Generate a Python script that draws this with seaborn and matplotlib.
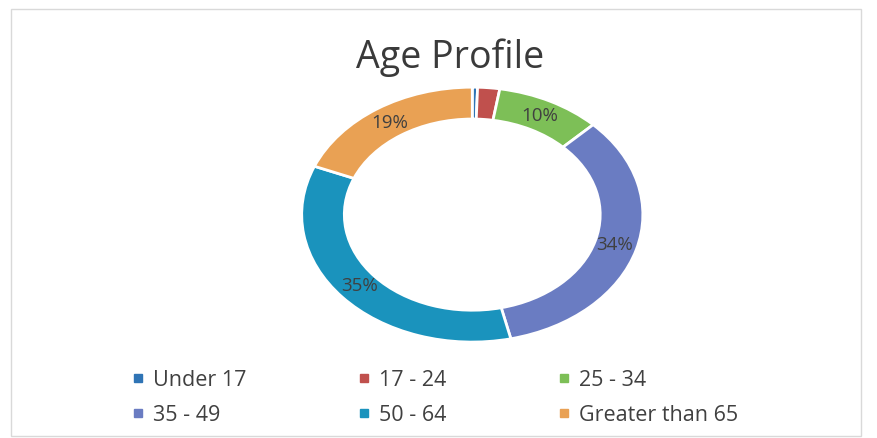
import matplotlib
matplotlib.use("Agg")
import matplotlib.pyplot as plt
import seaborn as sns
from matplotlib.lines import Line2D

# data
categories = ["Under 17", "17 - 24", "25 - 34", "35 - 49", "50 - 64", "Greater than 65"]
shares = [0.5, 2.1, 10, 34, 35, 18.9]
colors = ["#2f74b5", "#c0504d", "#7dbf57", "#6a7cc2", "#1a93bd", "#e9a154"]

sns.set_theme(style="white")
plt.rcParams['font.family'] = ['Open Sans', 'DejaVu Sans']

fig = plt.figure(figsize=(8.77, 4.38), dpi=100)
ax = fig.add_axes([0.344, 0.219, 0.389, 0.582])

def label_fmt(p):
    return f"{p:.0f}%" if p >= 5 else ""

wedges, texts, autotexts = ax.pie(
    shares, colors=colors, startangle=90, counterclock=False,
    radius=1, autopct=label_fmt, pctdistance=0.87,
    wedgeprops=dict(width=0.25, edgecolor="white", linewidth=2),
    textprops=dict(fontsize=13.5, color="#404040"),
)
ax.set_aspect('auto')
ax.set_xlim(-1, 1)
ax.set_ylim(-1, 1)

fig.text(0.513, 0.868, "Age Profile", ha="center", va="center", fontsize=27, color="#3a3a3a")

# legend, two rows of three (row-major order)
handles = [Line2D([0], [0], marker='s', linestyle='', markersize=6,
                  markerfacecolor=c, markeredgecolor=c) for c in colors]
order = [0, 3, 1, 4, 2, 5]
fig.legend([handles[i] for i in order], [categories[i] for i in order],
           loc="center left", bbox_to_anchor=(0.149, 0.092),
           ncol=3, frameon=False, fontsize=15.5, labelcolor="#404040",
           handletextpad=0.35, columnspacing=5.1, handlelength=0.7, labelspacing=0.65,
           borderaxespad=0, borderpad=0)

fig.add_artist(plt.Rectangle((0.012, 0.005), 0.97, 0.975, transform=fig.transFigure,
                             fill=False, edgecolor="#d9d9d9", linewidth=1))

plt.savefig("out.png", dpi=100)
plt.close(fig)
